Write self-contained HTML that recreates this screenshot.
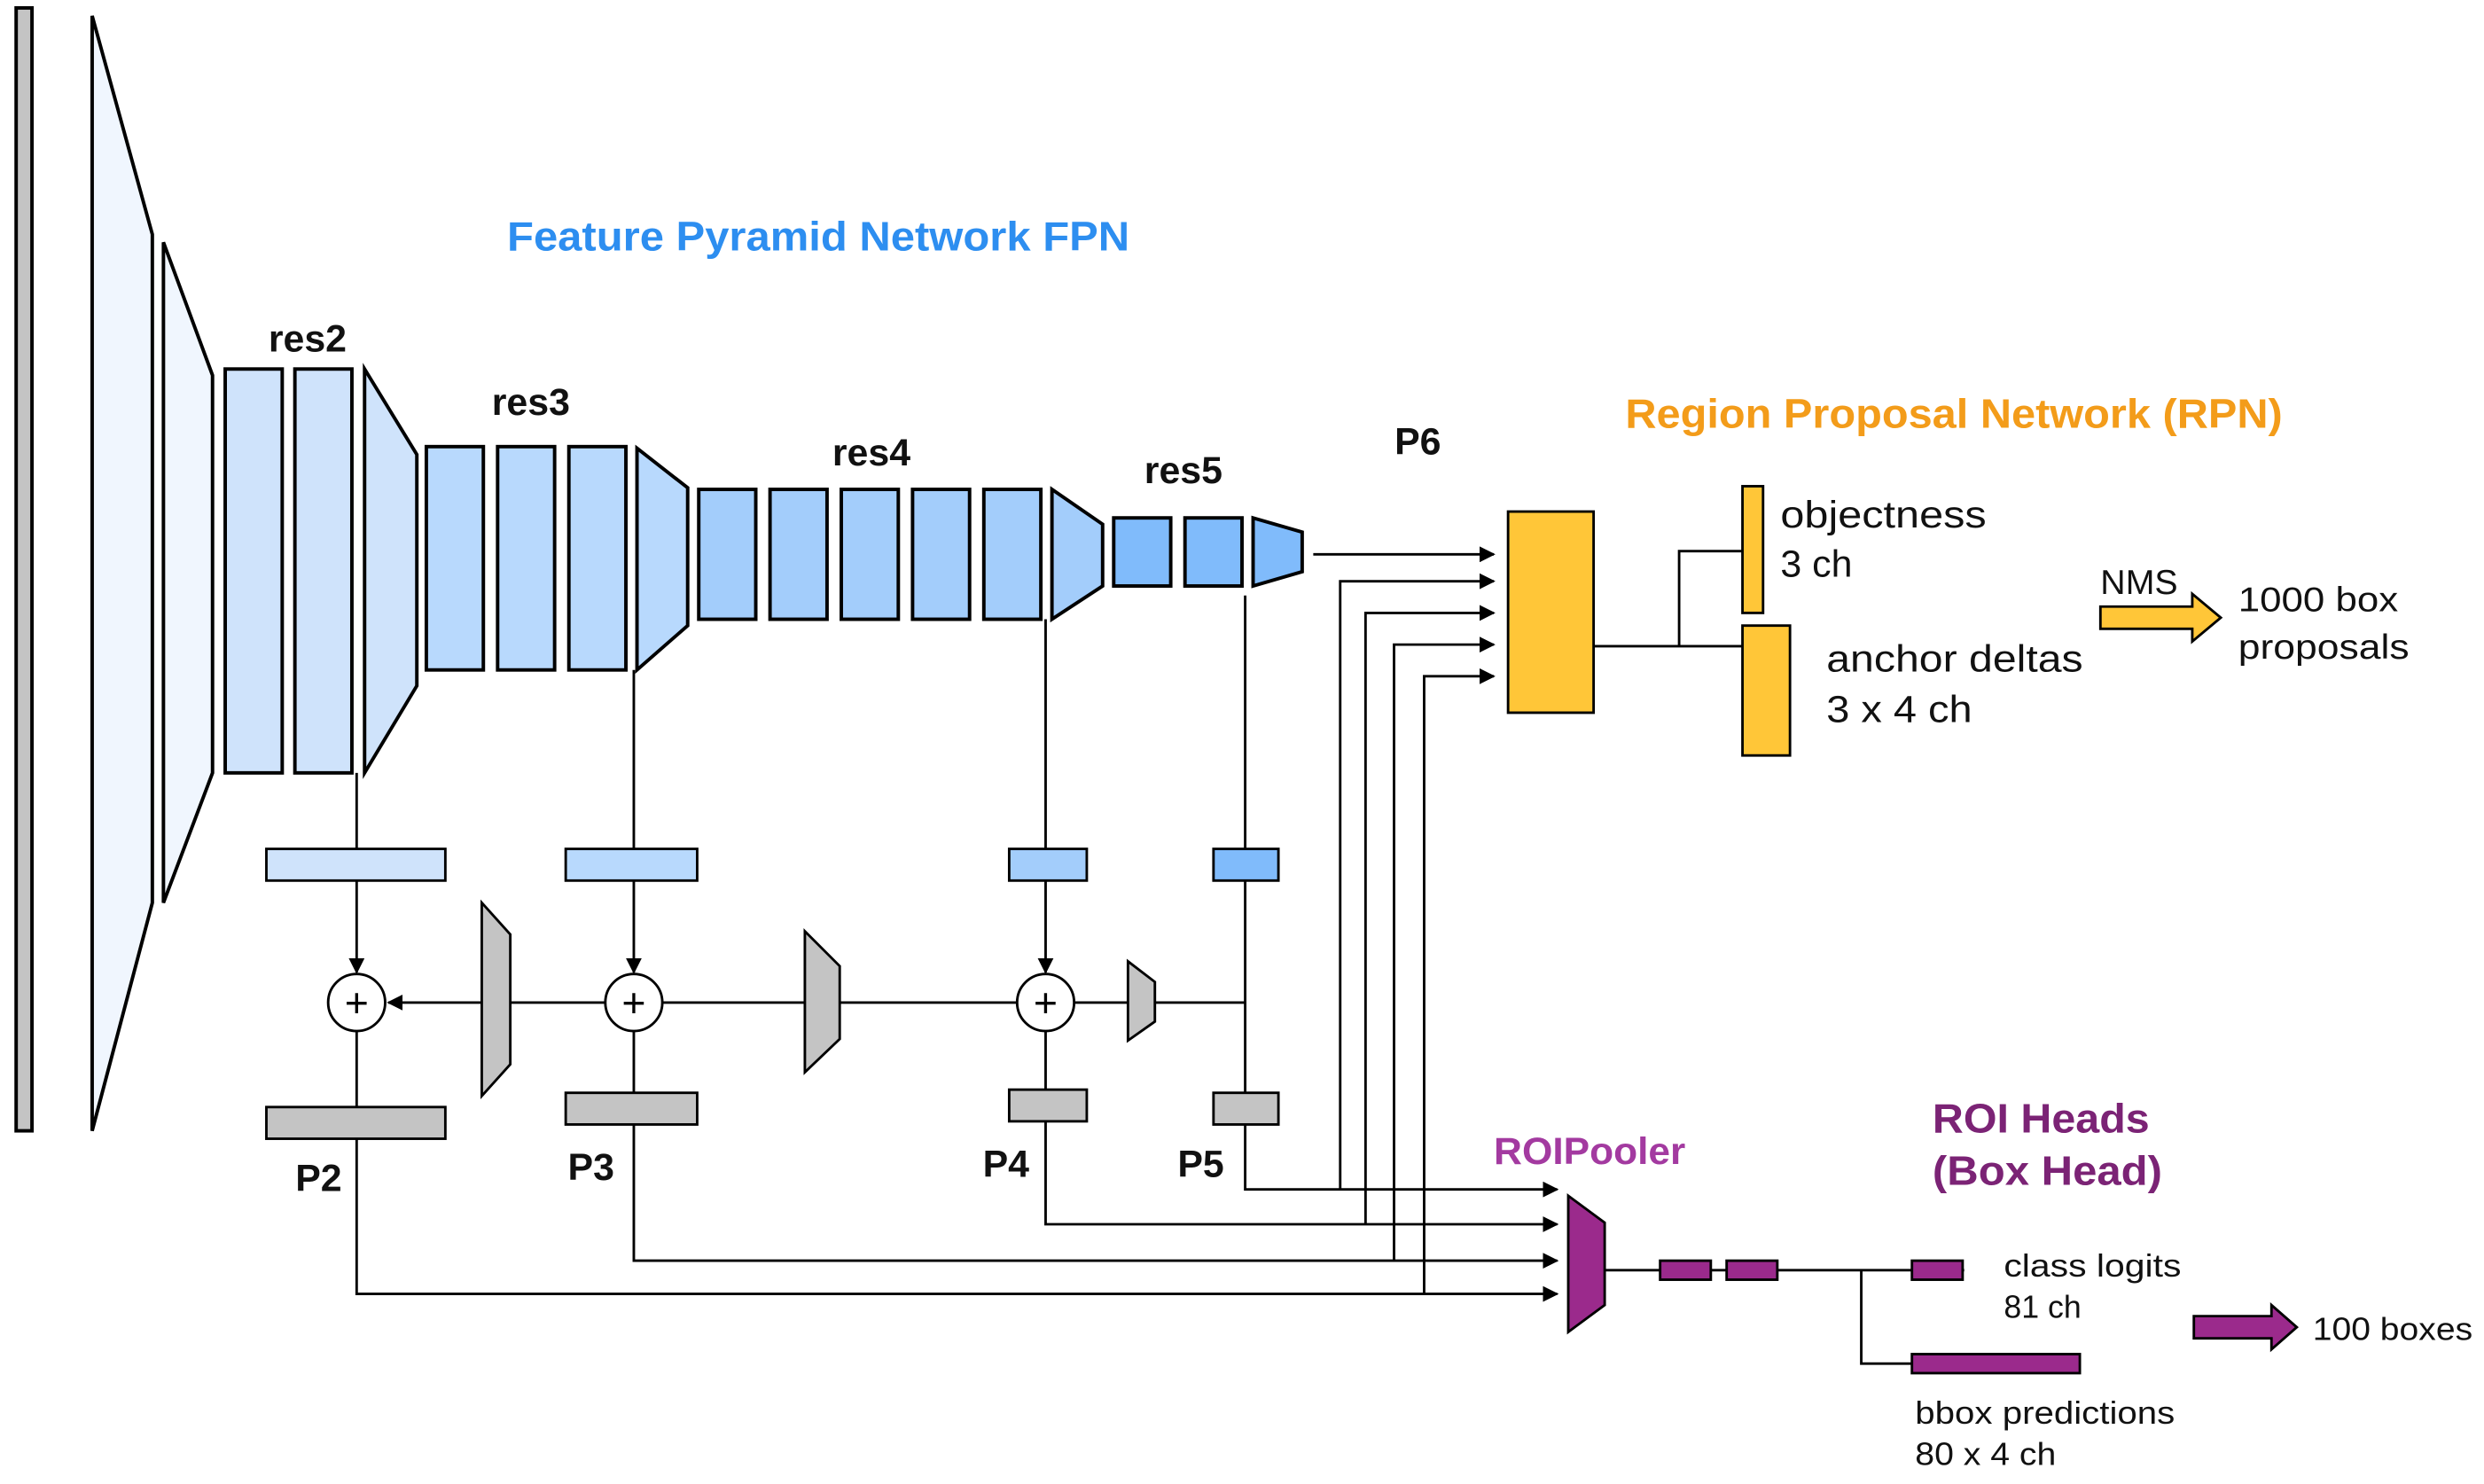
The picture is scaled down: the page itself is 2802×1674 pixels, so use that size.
<!DOCTYPE html>
<html><head><meta charset="utf-8"><style>
html,body{margin:0;padding:0;background:#fff;}
svg{display:block;}
text{font-family:"Liberation Sans","DejaVu Sans",sans-serif;}
</style></head><body>
<svg width="2802" height="1674" viewBox="0 0 1568 937" xmlns="http://www.w3.org/2000/svg">
<defs>
<marker id="a" markerWidth="10" markerHeight="10" refX="9" refY="5" orient="auto" markerUnits="userSpaceOnUse"><path d="M0,0 L10,5 L0,10 z" fill="#000"/></marker>
</defs>
<g stroke="#000" stroke-width="2.2">
<rect x="10" y="5" width="10" height="709" fill="#c4c4c4"/>
<polygon points="58,10 96,148 96,570 58,714" fill="#f0f6fe"/>
<polygon points="103,153 134,237 134,488 103,570" fill="#f0f6fe"/>
<g fill="#cfe3fb"><rect x="142" y="233" width="36" height="255"/><rect x="186" y="233" width="36" height="255"/><polygon points="230,233 263,287 263,433 230,488"/></g>
<g fill="#b8d9fd"><rect x="269" y="282" width="36" height="141"/><rect x="314" y="282" width="36" height="141"/><rect x="359" y="282" width="36" height="141"/><polygon points="402,283 434,308 434,395 402,423"/></g>
<g fill="#a3cdfb"><rect x="441" y="309" width="36" height="82"/><rect x="486" y="309" width="36" height="82"/><rect x="531" y="309" width="36" height="82"/><rect x="576" y="309" width="36" height="82"/><rect x="621" y="309" width="36" height="82"/><polygon points="664,309 696,331 696,370 664,391"/></g>
<g fill="#80bbfb"><rect x="703" y="327" width="36" height="43"/><rect x="748" y="327" width="36" height="43"/><polygon points="791,327 822,336 822,361 791,370"/></g>
</g>
<g stroke="#000" stroke-width="1.6" fill="none">
<line x1="225" y1="488" x2="225" y2="536"/><line x1="400" y1="423" x2="400" y2="536"/>
<line x1="660" y1="391" x2="660" y2="536"/><line x1="786" y1="376" x2="786" y2="536"/>
<line x1="225" y1="556" x2="225" y2="614" marker-end="url(#a)"/>
<line x1="400" y1="556" x2="400" y2="614" marker-end="url(#a)"/>
<line x1="660" y1="556" x2="660" y2="614" marker-end="url(#a)"/>
<line x1="786" y1="556" x2="786" y2="690"/>
<line x1="729" y1="633" x2="786" y2="633"/>
<line x1="678" y1="633" x2="712" y2="633"/>
<line x1="418" y1="633" x2="508" y2="633"/><line x1="530" y1="633" x2="642" y2="633"/>
<line x1="322" y1="633" x2="382" y2="633"/>
<line x1="304" y1="633" x2="245" y2="633" marker-end="url(#a)"/>
<line x1="225" y1="651" x2="225" y2="699"/><line x1="400" y1="651" x2="400" y2="690"/><line x1="660" y1="651" x2="660" y2="688"/>
<polyline points="786,710 786,751 983,751" marker-end="url(#a)"/>
<polyline points="660,708 660,773 983,773" marker-end="url(#a)"/>
<polyline points="400,710 400,796 983,796" marker-end="url(#a)"/>
<polyline points="225,719 225,817 983,817" marker-end="url(#a)"/>
<line x1="829" y1="350" x2="943" y2="350" marker-end="url(#a)"/>
<polyline points="846,751 846,367 943,367" marker-end="url(#a)"/>
<polyline points="862,773 862,387 943,387" marker-end="url(#a)"/>
<polyline points="880,796 880,407 943,407" marker-end="url(#a)"/>
<polyline points="899,817 899,427 943,427" marker-end="url(#a)"/>
<line x1="1006" y1="408" x2="1100" y2="408"/>
<polyline points="1100,348 1060,348 1060,408"/>
<line x1="1013" y1="802" x2="1240" y2="802"/>
<polyline points="1175,802 1175,861 1207,861"/>
</g>
<g stroke="#000" stroke-width="1.6" fill="#fff">
<circle cx="225" cy="633" r="18"/><circle cx="400" cy="633" r="18"/><circle cx="660" cy="633" r="18"/>
</g>
<g font-size="26" text-anchor="middle" fill="#000"><text x="225" y="642">+</text><text x="400" y="642">+</text><text x="660" y="642">+</text></g>
<g stroke="#000" stroke-width="1.6">
<rect x="168" y="536" width="113" height="20" fill="#cfe3fb"/>
<rect x="357" y="536" width="83" height="20" fill="#b8d9fd"/>
<rect x="637" y="536" width="49" height="20" fill="#a3cdfb"/>
<rect x="766" y="536" width="41" height="20" fill="#80bbfb"/>
<g fill="#c4c4c4">
<rect x="168" y="699" width="113" height="20"/><rect x="357" y="690" width="83" height="20"/>
<rect x="637" y="688" width="49" height="20"/><rect x="766" y="690" width="41" height="20"/>
<polygon points="712,607 729,620 729,645 712,657"/>
<polygon points="508,588 530,610 530,656 508,677"/>
<polygon points="304,570 322,590 322,672 304,692"/>
</g>
<g fill="#ffc638">
<rect x="952" y="323" width="54" height="127"/>
<rect x="1100" y="307" width="13" height="80"/>
<rect x="1100" y="395" width="30" height="82"/>
<polygon points="1326,383 1384,383 1384,375 1402,390 1384,405 1384,397 1326,397"/>
</g>
<g fill="#9b2a8c">
<polygon points="990,755 1013,772 1013,824 990,841"/>
<rect x="1048" y="796" width="32" height="12"/><rect x="1090" y="796" width="32" height="12"/>
<rect x="1207" y="796" width="32" height="12"/><rect x="1207" y="855" width="106" height="12"/>
<polygon points="1385,831 1434,831 1434,824 1450,838 1434,852 1434,845 1385,845"/>
</g>
</g>
<g font-weight="bold" font-size="24" fill="#111">
<text x="194" y="222" text-anchor="middle">res2</text>
<text x="335" y="262" text-anchor="middle">res3</text>
<text x="550" y="294" text-anchor="middle">res4</text>
<text x="747" y="305" text-anchor="middle">res5</text>
<text x="895" y="287" text-anchor="middle">P6</text>
<text x="201" y="752" text-anchor="middle">P2</text>
<text x="373" y="745" text-anchor="middle">P3</text>
<text x="635" y="743" text-anchor="middle">P4</text>
<text x="758" y="743" text-anchor="middle">P5</text>
</g>
<text x="320" y="158" font-size="26" font-weight="bold" fill="#2d8ef0" textLength="393" lengthAdjust="spacingAndGlyphs">Feature Pyramid Network FPN</text>
<text x="1026" y="270" font-size="26" font-weight="bold" fill="#f39c1a" textLength="415" lengthAdjust="spacingAndGlyphs">Region Proposal Network (RPN)</text>
<text x="943" y="735" font-size="24" font-weight="bold" fill="#a33aa0" textLength="121" lengthAdjust="spacingAndGlyphs">ROIPooler</text>
<text x="1220" y="715" font-size="26" font-weight="bold" fill="#7b2375" textLength="137" lengthAdjust="spacingAndGlyphs">ROI Heads</text>
<text x="1220" y="748" font-size="26" font-weight="bold" fill="#7b2375" textLength="145" lengthAdjust="spacingAndGlyphs">(Box Head)</text>
<g font-size="24" fill="#111">
<text x="1124" y="333" textLength="130" lengthAdjust="spacingAndGlyphs">objectness</text><text x="1124" y="364">3 ch</text>
<text x="1153" y="424" textLength="162" lengthAdjust="spacingAndGlyphs">anchor deltas</text><text x="1153" y="456" textLength="92" lengthAdjust="spacingAndGlyphs">3 x 4 ch</text>
</g>
<g font-size="22" fill="#111">
<text x="1326" y="375">NMS</text>
<text x="1413" y="386" textLength="101" lengthAdjust="spacingAndGlyphs">1000 box</text><text x="1413" y="416" textLength="108" lengthAdjust="spacingAndGlyphs">proposals</text>
</g>
<g font-size="20" fill="#111">
<text x="1265" y="806" textLength="112" lengthAdjust="spacingAndGlyphs">class logits</text><text x="1265" y="832">81 ch</text>
<text x="1209" y="899" textLength="164" lengthAdjust="spacingAndGlyphs">bbox predictions</text><text x="1209" y="925" textLength="89" lengthAdjust="spacingAndGlyphs">80 x 4 ch</text>
<text x="1460" y="846" textLength="101" lengthAdjust="spacingAndGlyphs">100 boxes</text>
</g>
</svg>
</body></html>
